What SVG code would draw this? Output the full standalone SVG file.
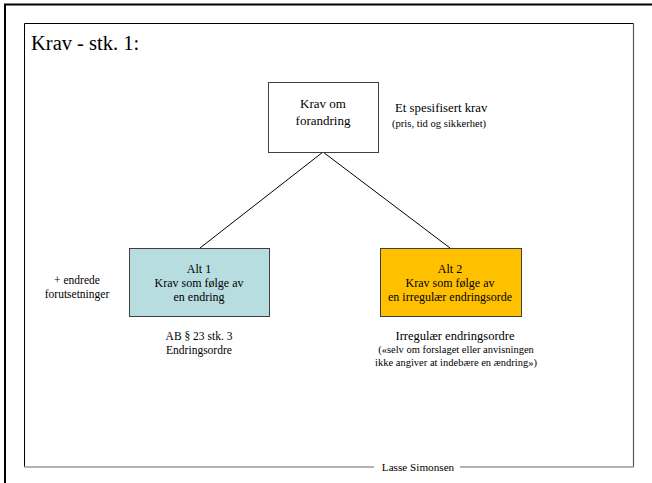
<svg xmlns="http://www.w3.org/2000/svg" width="652" height="483" viewBox="0 0 652 483" font-family="'Liberation Serif', 'Times New Roman', Tinos, 'DejaVu Serif', serif">
<style>
text{font-family:'Liberation Serif','Times New Roman',Tinos,'DejaVu Serif',serif;fill:#000}
.c{text-anchor:middle}
.box{stroke:#404040;stroke-width:1}
.conn{stroke:#000;stroke-width:1;fill:none}
</style>
<rect x="0" y="0" width="652" height="483" fill="#fff"/>
<g id="frame">
<path d="M5 483V4.5H652" fill="none" stroke="#000" stroke-width="2"/>
<path d="M24.5 467V23.5H633.5" fill="none" stroke="#000" stroke-width="1"/>
<path d="M633.5 23.5V467" fill="none" stroke="#555" stroke-width="1.2"/>
<path d="M24 467H374M460 467H634" fill="none" stroke="#9a9a9a" stroke-width="1.6"/>
<text x="418" y="471" class="c" font-size="11.2">Lasse Simonsen</text>
</g>
<text id="title" x="31" y="50" font-size="20.5">Krav - stk. 1:</text>
<g id="connectors">
<line class="conn" x1="323" y1="152" x2="200" y2="248"/>
<line class="conn" x1="323" y1="152" x2="450" y2="248"/>
</g>
<g id="node-top">
<rect class="box" x="268.5" y="82.5" width="110" height="70" fill="#fff"/>
<text x="323" y="108" class="c" font-size="13">Krav om</text>
<text x="323" y="125" class="c" font-size="13">forandring</text>
</g>
<g id="note-top">
<text x="395" y="112" font-size="12.8">Et spesifisert krav</text>
<text x="392" y="127" font-size="10.6">(pris, tid og sikkerhet)</text>
</g>
<g id="node-alt1">
<rect class="box" x="129.5" y="248.5" width="140" height="68" fill="#B7DDE0"/>
<text x="199" y="273" class="c" font-size="12">Alt 1</text>
<text x="199" y="287" class="c" font-size="12">Krav som følge av</text>
<text x="199" y="301" class="c" font-size="12">en endring</text>
</g>
<g id="note-left">
<text x="77" y="284" class="c" font-size="11.5">+ endrede</text>
<text x="77" y="298" class="c" font-size="11.5">forutsetninger</text>
</g>
<g id="note-alt1">
<text x="199" y="340" class="c" font-size="11.5">AB § 23 stk. 3</text>
<text x="199" y="354" class="c" font-size="11.5">Endringsordre</text>
</g>
<g id="node-alt2">
<rect class="box" x="380.5" y="248.5" width="141" height="68" fill="#FFC000"/>
<text x="450" y="273" class="c" font-size="12">Alt 2</text>
<text x="450" y="287" class="c" font-size="12">Krav som følge av</text>
<text x="450" y="301" class="c" font-size="12">en irregulær endringsorde</text>
</g>
<g id="note-alt2">
<text x="455" y="340" class="c" font-size="12.5">Irregulær endringsordre</text>
<text x="456" y="353" class="c" font-size="10.5">(«selv om forslaget eller anvisningen</text>
<text x="456" y="366" class="c" font-size="10.5">ikke angiver at indebære en ændring»)</text>
</g>
</svg>
